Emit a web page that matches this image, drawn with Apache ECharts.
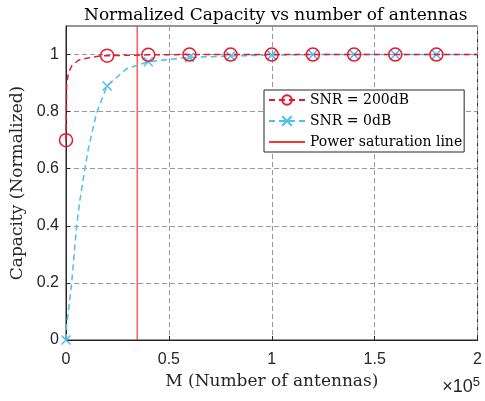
<!DOCTYPE html>
<html>
<head>
<meta charset="utf-8">
<script src="https://cdn.jsdelivr.net/npm/echarts@6/dist/echarts.min.js"></script>
<style>
html,body{margin:0;padding:0;background:#fff;}
#chartDiv{width:485px;height:401px;}
</style>
</head>
<body>
<div id="chartDiv"></div>
<script>
// values
var redM   = [0, 300, 1100, 2750, 6000, 8400, 16400, 20000, 40000, 60000, 80000, 100000, 120000, 140000, 160000, 180000, 200000];
var redCap = [0.70, 0.89, 0.935, 0.96, 0.98, 0.985, 0.995, 0.996, 0.999, 1, 1, 1, 1, 1, 1, 1, 1];
var blueM   = [0, 340, 1000, 2750, 5170, 6760, 9180, 10770, 14830, 20000, 29320, 40000, 60000, 80000, 100000, 120000, 140000, 160000, 180000, 200000];
var blueCap = [0, 0.06, 0.09, 0.2, 0.40, 0.49, 0.60, 0.667, 0.795, 0.89, 0.95, 0.975, 0.99, 0.995, 0.998, 1, 1, 1, 1, 1];
var saturationM = 34600;
var markerStep = 20000;

var serif = 'DejaVu Serif';
var sans = 'Liberation Sans';

var build = function(ms, vs){
    var out = [];
    for (var i = 0; i < ms.length; i++) {
        var item = {value: [ms[i], vs[i]]};
        if (ms[i] % markerStep !== 0 || ms[i] >= 200000) {
            item.symbol = 'none';
        }
        out.push(item);
    }
    return out;
};

var myChart = echarts.init(document.getElementById('chartDiv'));

var option = {
    backgroundColor: '#fff',
    animation: false,
    title: {
        text: 'Normalized Capacity vs number of antennas',
        left: 79,
        top: 2,
        textStyle: {fontFamily: serif, fontSize: 17, fontWeight: 'normal', color: '#000'}
    },
    legend: {
        orient: 'vertical',
        left: 264,
        top: 90,
        padding: [3, 2, 3, 4],
        itemGap: 7,
        itemWidth: 36,
        itemHeight: 12,
        backgroundColor: '#fff',
        borderColor: '#262626',
        borderWidth: 1,
        textStyle: {fontFamily: serif, fontSize: 14, color: '#000'},
        data: [
            'SNR = 200dB',
            'SNR = 0dB',
            {name: 'Power saturation line', itemStyle: {color: 'rgba(0,0,0,0)', borderColor: 'rgba(0,0,0,0)', opacity: 0}}
        ]
    },
    grid: {
        show: true,
        left: 66,
        right: 5,
        top: 26,
        bottom: 61,
        borderColor: '#262626',
        borderWidth: 1
    },
    xAxis: {
        type: 'value',
        min: 0,
        max: 200000,
        interval: 50000,
        name: 'M (Number of antennas)',
        nameLocation: 'middle',
        nameGap: 31,
        nameTextStyle: {fontFamily: serif, fontSize: 17, color: '#262626'},
        axisLine: {lineStyle: {color: '#262626'}},
        axisTick: {inside: true, length: 4, lineStyle: {color: '#262626'}},
        axisLabel: {
            margin: 12,
            fontFamily: sans, fontSize: 16, color: '#262626',
            formatter: function(v){ return String(v / 100000); }
        },
        splitLine: {show: true, lineStyle: {color: '#9a9a9a', type: [5, 3]}}
    },
    yAxis: {
        type: 'value',
        min: 0,
        max: 1.1,
        interval: 0.2,
        name: 'Capacity (Normalized)',
        nameLocation: 'middle',
        nameGap: 39,
        nameTextStyle: {fontFamily: serif, fontSize: 17, color: '#262626'},
        axisLine: {show: true, lineStyle: {color: '#262626'}},
        axisTick: {show: true, inside: true, length: 4, lineStyle: {color: '#262626'}},
        axisLabel: {
            margin: 7,
            showMaxLabel: false,
            fontFamily: sans, fontSize: 16, color: '#262626',
            formatter: function(v){ return v > 1.05 ? '' : String(Math.round(v * 10) / 10); }
        },
        splitLine: {show: true, lineStyle: {color: '#9a9a9a', type: [5, 3]}}
    },
    graphic: [{
        type: 'text',
        right: 5,
        top: 376,
        style: {
            text: '×10{s|5}',
            font: '18px "Liberation Sans"',
            fill: '#262626',
            rich: {s: {fontSize: 13, verticalAlign: 'top', padding: [0, 0, 9, 0], fontFamily: sans}}
        }
    }],
    series: [
        {
            name: 'SNR = 200dB',
            type: 'line',
            data: build(redM, redCap),
            symbol: 'circle',
            symbolSize: 13,
            showAllSymbol: true,
            z: 3,
            lineStyle: {color: '#e8182c', width: 1.5, type: [6, 4]},
            itemStyle: {color: 'rgba(0,0,0,0)', borderColor: '#e8182c', borderWidth: 1.5}
        },
        {
            name: 'SNR = 0dB',
            type: 'line',
            data: build(blueM, blueCap),
            symbol: 'path://M0,0L10,10M10,0L0,10',
            symbolSize: 9,
            showAllSymbol: true,
            z: 2,
            lineStyle: {color: '#4dbeee', width: 1.5, type: [6, 4]},
            itemStyle: {color: 'rgba(0,0,0,0)', borderColor: '#4dbeee', borderWidth: 1.5}
        },
        {
            name: 'Power saturation line',
            type: 'line',
            data: [[saturationM, 0], [saturationM, 1.1]],
            symbol: 'none',
            z: 1,
            lineStyle: {color: '#ff3535', width: 1.2},
            itemStyle: {color: '#ff3535'}
        }
    ]
};

myChart.setOption(option);
</script>
</body>
</html>
